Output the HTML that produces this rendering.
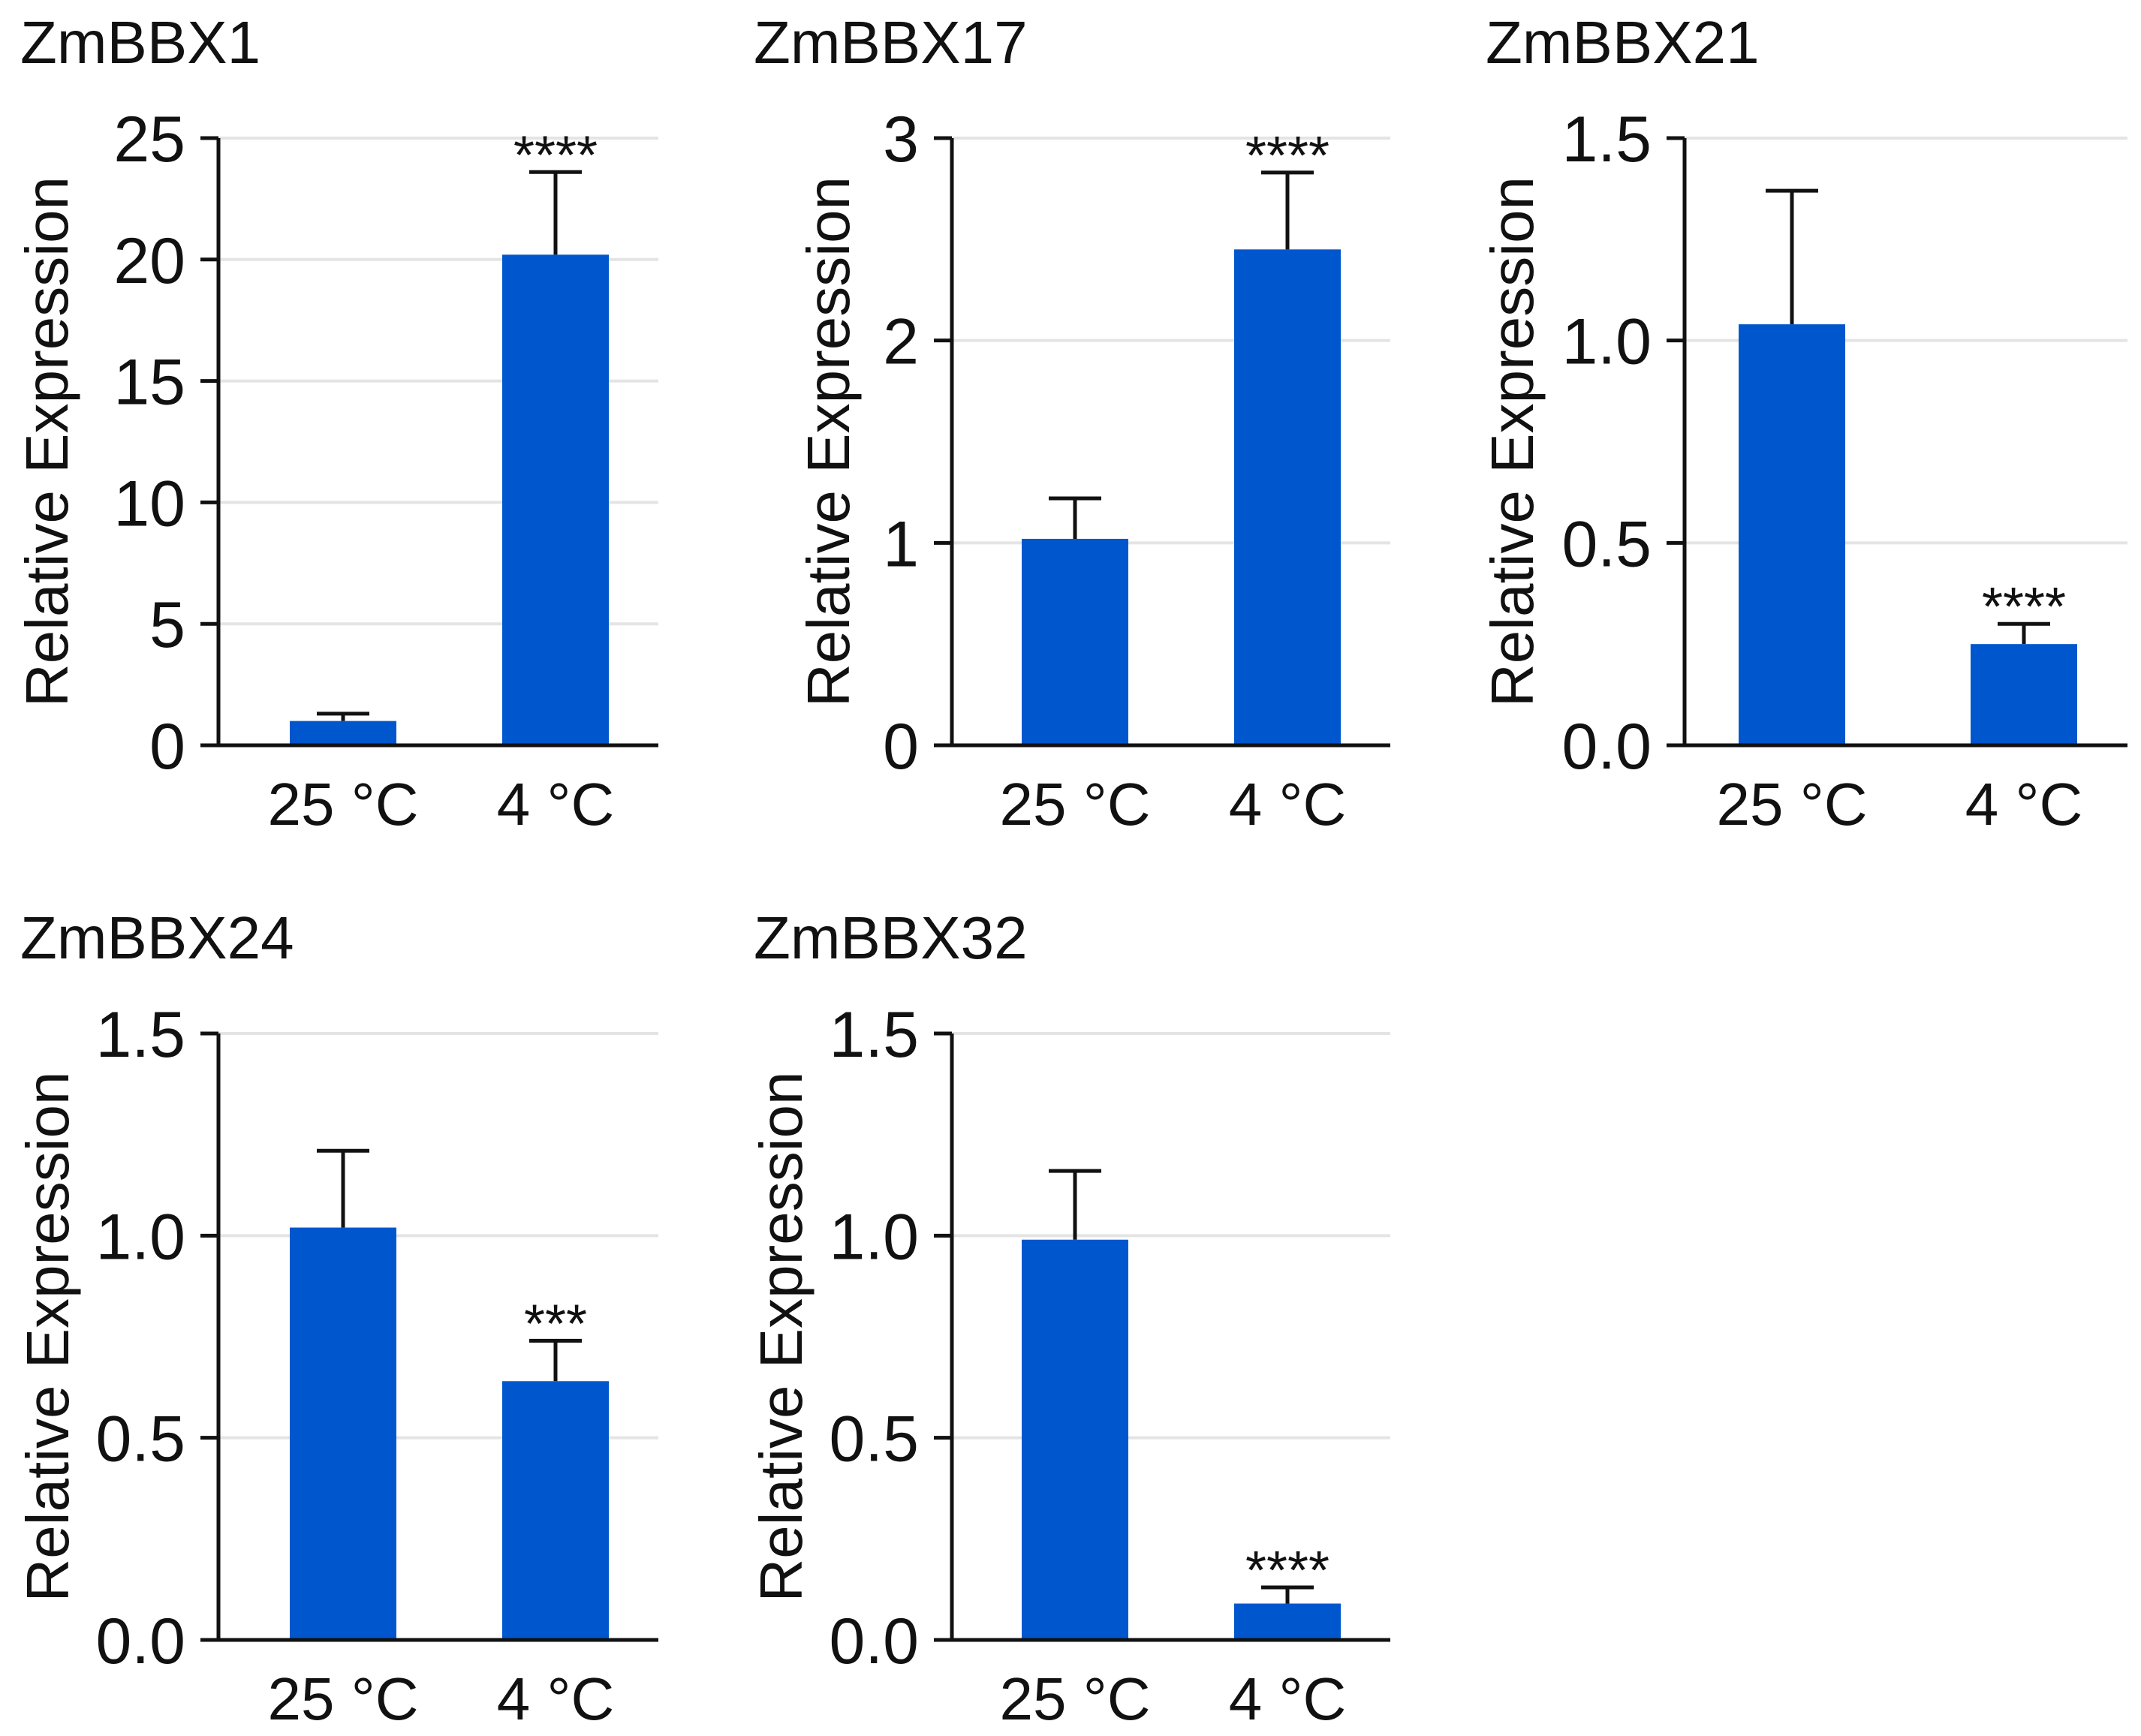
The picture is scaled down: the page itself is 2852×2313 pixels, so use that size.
<!DOCTYPE html>
<html><head><meta charset="utf-8"><style>
html,body{margin:0;padding:0;background:#fff}
svg{display:block;font-family:"Liberation Sans",Arial,sans-serif}
</style></head><body>
<svg id="chart" width="2852" height="2313" viewBox="0 0 2852 2313" xmlns="http://www.w3.org/2000/svg"></svg>
<script>
const panelTitles = ["ZmBBX1","ZmBBX17","ZmBBX21","ZmBBX24","ZmBBX32"];
const categories = ["25 °C","4 °C"];
const means = [[1.0,20.2],[1.02,2.45],[1.04,0.25],[1.02,0.64],[0.99,0.09]];
const errTops = [[1.3,23.6],[1.22,2.83],[1.37,0.30],[1.21,0.74],[1.16,0.13]];
const yMaxs = [25,3,1.5,1.5,1.5];
const tickVals = [[0,5,10,15,20,25],[0,1,2,3],[0,0.5,1,1.5],[0,0.5,1,1.5],[0,0.5,1,1.5]];
const tickLabels = [["0","5","10","15","20","25"],["0","1","2","3"],["0.0","0.5","1.0","1.5"],["0.0","0.5","1.0","1.5"],["0.0","0.5","1.0","1.5"]];
const sigLabels = [["","****"],["","****"],["","****"],["","***"],["","****"]];

const layout = [
 {ax:291,right:877,top:184,zero:993,b:[95,378],tx:27,ty:84,yt:90},
 {ax:1268,right:1852,top:184,zero:993,b:[93,376],tx:1004,ty:84,yt:1131},
 {ax:2244,right:2834,top:184,zero:993,b:[72,381],tx:1979,ty:84,yt:2042},
 {ax:291,right:877,top:1377,zero:2185,b:[95,378],tx:27,ty:1277,yt:91},
 {ax:1268,right:1852,top:1377,zero:2185,b:[93,376],tx:1004,ty:1277,yt:1068}
];
const NS="http://www.w3.org/2000/svg";
const svg=document.getElementById('chart');
function mk(tag,attrs,parent,text){const e=document.createElementNS(NS,tag);for(const k in attrs)e.setAttribute(k,attrs[k]);if(text!==undefined)e.textContent=text;parent.appendChild(e);return e;}
const BW=142, BLUE="#0057cd";
for(let p=0;p<5;p++){
  const L=layout[p];
  const g=mk('g',{},svg);
  
  
  const y=v=>L.zero-(v/yMaxs[p])*(L.zero-L.top);
  const t=mk('text',{x:L.tx,y:L.ty,'font-size':80,fill:'#111'},g,panelTitles[p]);
  
  
  const cy=(L.top+L.zero)/2;
  const yt=mk('text',{x:0,y:0,'font-size':80,'text-anchor':'middle',fill:'#111',transform:`translate(${L.yt},${cy}) rotate(-90)`},g,'Relative Expression');
  
  
  for(let i=0;i<tickVals[p].length;i++){
    const v=tickVals[p][i], yy=y(v);
    if(v!==0){const gl=mk('line',{x1:L.ax,x2:L.right,y1:yy,y2:yy,stroke:'#e4e4e4','stroke-width':4},g);
      
      }
    const tk=mk('line',{x1:L.ax-24,x2:L.ax,y1:yy,y2:yy,stroke:'#111','stroke-width':5},g);
    
    
    const tl=mk('text',{x:L.ax-44,y:yy+31,'font-size':86,'text-anchor':'end',fill:'#111'},g,tickLabels[p][i]);
    
    
  }
  for(let c=0;c<2;c++){
    const x0=L.ax+L.b[c], cx=x0+BW/2;
    const et=y(errTops[p][c]);
    const el=mk('path',{d:`M${cx},${y(means[p][c])}V${et}M${cx-35},${et}H${cx+35}`,stroke:'#111','stroke-width':5,fill:'none'},g);
    
    
    const bar=mk('rect',{x:x0,y:y(means[p][c]),width:BW,height:L.zero-y(means[p][c]),fill:BLUE},g);
    
    
    if(sigLabels[p][c]){
      const s=mk('text',{x:cx,y:et+2,'font-size':72,'text-anchor':'middle',fill:'#111'},g,sigLabels[p][c]);
      
      
    }
    const xl=mk('text',{x:cx,y:L.zero+106,'font-size':80,'text-anchor':'middle',fill:'#111'},g,categories[c]);
    
    
  }
  const axes=mk('path',{d:`M${L.ax},${L.top}V${L.zero}M${L.ax-24},${L.zero}H${L.right}`,stroke:'#111','stroke-width':5,fill:'none'},g);
  
  
}
</script>
</body></html>
